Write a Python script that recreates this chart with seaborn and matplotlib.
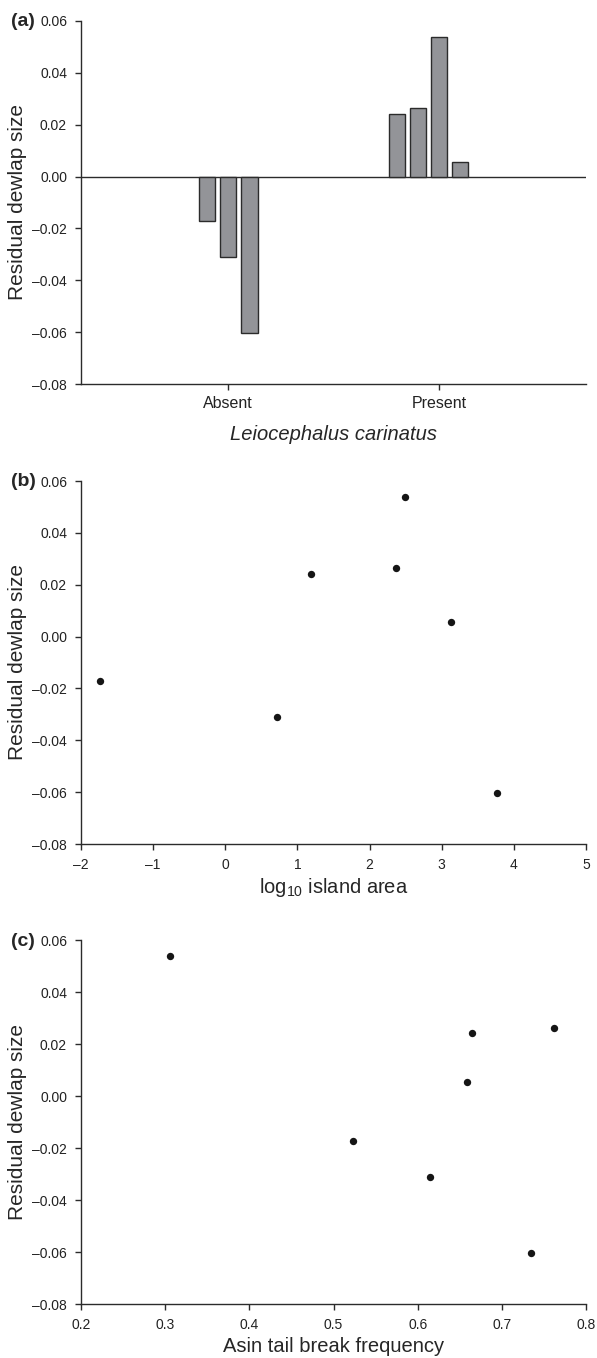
import matplotlib
matplotlib.use('Agg')
import matplotlib.pyplot as plt
import seaborn as sns
import pandas as pd
from matplotlib.ticker import FuncFormatter

# residual dewlap size per population
absent_vals = [-0.0173, -0.0312, -0.0603]
present_vals = [0.0242, 0.0263, 0.0538, 0.0055]
absent_slots = [1, 2, 3]
present_slots = [0, 1, 2, 3]
groups = ['Absent', 'Present']

# same populations, against island area and tail break frequency
resid = [-0.0173, -0.0312, 0.0242, 0.0263, 0.0538, 0.0055, -0.0603]
log_area = [-1.73, 0.71, 1.19, 2.37, 2.49, 3.13, 3.77]
tail_break = [0.523, 0.615, 0.665, 0.762, 0.306, 0.659, 0.735]

yticks = [-0.08, -0.06, -0.04, -0.02, 0.00, 0.02, 0.04, 0.06]

sns.set_style('ticks')
plt.rcParams['font.family'] = ['Liberation Sans', 'DejaVu Sans']
plt.rcParams['mathtext.fontset'] = 'custom'
plt.rcParams['mathtext.rm'] = 'Liberation Sans'

bar_df = pd.DataFrame({
    'group': ['Absent'] * len(absent_vals) + ['Present'] * len(present_vals),
    'slot': absent_slots + present_slots,
    'value': absent_vals + present_vals,
})
pts = pd.DataFrame({'resid': resid, 'area': log_area, 'tail': tail_break})

fig = plt.figure(figsize=(5.97, 13.58), dpi=100)
W, H = 597, 1358
def rect(top, bottom, left=81, right=586):
    return [left / W, 1 - bottom / H, (right - left) / W, (bottom - top) / H]

ax_a = fig.add_axes(rect(21, 384))
ax_b = fig.add_axes(rect(481, 844))
ax_c = fig.add_axes(rect(940, 1304))

dark = '#2b2b2b'
def dash(s):
    return s.replace('-', '\u2013')
yfmt = FuncFormatter(lambda v, p: '0.00' if abs(v) < 1e-9 else dash(f"{v:.2f}"))

sns.barplot(data=bar_df, x='group', y='value', hue='slot', hue_order=[0, 1, 2, 3, 4],
            order=groups, dodge=True, width=0.5, gap=0.22, errorbar=None,
            palette=['#939498'] * 5, edgecolor=dark, linewidth=1.0, legend=False,
            saturation=1, ax=ax_a)
ax_a.axhline(0, color=dark, lw=1.0, zorder=0.5)
ax_a.set_xlim(-0.699, 1.698)
ax_a.set_xlabel('Leiocephalus carinatus', fontsize=14.5, style='italic', va='center')
ax_a.xaxis.set_label_coords(0.5, -0.138)
ax_a.tick_params(axis='x', labelsize=11.5, pad=5)

sns.scatterplot(data=pts, x='area', y='resid', s=28, color='#151515', linewidth=0, ax=ax_b)
ax_b.set_xlim(-2, 5)
ax_b.set_xticks(range(-2, 6))
ax_b.xaxis.set_major_formatter(FuncFormatter(lambda v, p: dash(f"{int(round(v))}")))
ax_b.set_xlabel('log$_{\\mathrm{10}}$ island area', fontsize=14.5, va='center')
ax_b.xaxis.set_label_coords(0.5, -0.12)

sns.scatterplot(data=pts, x='tail', y='resid', s=28, color='#151515', linewidth=0, ax=ax_c)
ax_c.set_xlim(0.2, 0.8)
ax_c.set_xticks([0.2, 0.3, 0.4, 0.5, 0.6, 0.7, 0.8])
ax_c.xaxis.set_major_formatter(FuncFormatter(lambda v, p: f"{v:.1f}"))
ax_c.set_xlabel('Asin tail break frequency', fontsize=14.5, va='center')
ax_c.xaxis.set_label_coords(0.5, -0.118)

for ax, lab, ytop in [(ax_a, '(a)', 21), (ax_b, '(b)', 481), (ax_c, '(c)', 942)]:
    ax.set_ylim(-0.08, 0.06)
    ax.set_yticks(yticks)
    ax.yaxis.set_major_formatter(yfmt)
    ax.set_ylabel('Residual dewlap size', fontsize=15, va='center')
    ax.yaxis.set_label_coords(-0.126, 0.5)
    sns.despine(ax=ax)
    for s in ['left', 'bottom']:
        ax.spines[s].set_color(dark)
        ax.spines[s].set_linewidth(1.0)
    ax.tick_params(direction='out', length=4, width=1, color=dark, labelcolor='#222222')
    ax.tick_params(axis='y', labelsize=10, pad=6)
    if ax is not ax_a:
        ax.tick_params(axis='x', labelsize=10, pad=6)
    fig.text(0.019, 1 - ytop / H, lab, fontsize=14, fontweight='bold', va='center', ha='left')

fig.savefig('out.png', dpi=100)
plt.close(fig)
